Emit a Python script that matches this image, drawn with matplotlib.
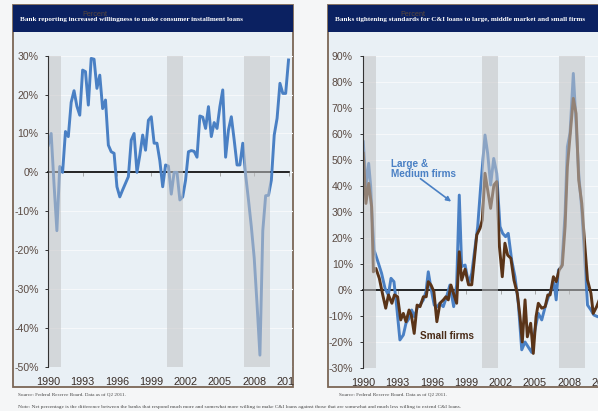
import numpy as np
import matplotlib
matplotlib.use("Agg")
import matplotlib.pyplot as plt
from matplotlib.patches import Rectangle

# ---------------- data ----------------
left_title = "Bank reporting increased willingness to make consumer installment loans"
right_title = "Banks tightening standards for C&I loans to large, middle market and small firms"
source_text = "Source: Federal Reserve Board. Data as of Q2 2011."
note_text = ("Note: Net percentage is the difference between the banks that respond much more and somewhat more "
             "willing to make C&I loans against those that are somewhat and much less willing to extend C&I loans.")

x_ticks = [1990, 1993, 1996, 1999, 2002, 2005, 2008, 2011]
left_yticks = [-50, -40, -30, -20, -10, 0, 10, 20, 30]
right_yticks = [-30, -20, -10, 0, 10, 20, 30, 40, 50, 60, 70, 80, 90]
recessions = [(1990.0, 1991.1), (2000.4, 2001.75), (2007.1, 2009.35)]

# consumer installment loans willingness, quarterly from 1990 Q1
consumer_start = 1990.0
consumer_values = [7, 10, -3, -15, 1.5, 0, 10.5, 9.2, 18, 21, 17, 14.7,
                   26.3, 25.9, 17.3, 29.3, 29.1, 21.6, 25, 16.4, 18.6, 7, 5.3, 4.9,
                   -3.7, -6.3, -4.5, -2.8, -1.1, 8.3, 10, 0, 4.4, 9.6, 5.7, 13.4,
                   14.3, 7.5, 7.5, 3, -3.7, 1.9, 1.6, -5.6, 0, 0, -7.1, -6.3,
                   -2, 5.3, 5.6, 5.4, 3.9, 14.5, 14.2, 11.3, 16.9, 9.2, 12.8, 11.3,
                   16.9, 21.2, 3.9, 10.9, 14.3, 8.3, 1.9, 1.9, 7.5, -0.7, -7.1, -14,
                   -22, -34, -47, -15, -6, -5.9, -2, 9.6, 13.9, 22.9, 20.3, 20.3, 28.9]

large_years = [1990.0, 1990.23, 1990.47, 1990.65, 1990.73, 1990.94, 1991.32, 1991.6, 1991.9,
               1992.19, 1992.42, 1992.68, 1992.92, 1993.2, 1993.5, 1993.73, 1994.0, 1994.23,
               1994.47, 1994.75, 1994.96, 1995.25, 1995.48, 1995.68, 1995.92, 1996.2, 1996.46,
               1996.7, 1996.99, 1997.28, 1997.57, 1997.9, 1998.16, 1998.39, 1998.6, 1998.9,
               1999.2, 1999.48, 1999.7, 2000.0, 2000.26, 2000.64, 2000.87, 2001.13, 2001.4,
               2001.66, 2001.95, 2002.18, 2002.44, 2002.67, 2002.97, 2003.26, 2003.55, 2003.85,
               2004.14, 2004.43, 2004.72, 2005.0, 2005.3, 2005.6, 2005.9, 2006.19, 2006.48,
               2006.68, 2006.86, 2007.06, 2007.35, 2007.64, 2007.84, 2008.07, 2008.36, 2008.6,
               2008.83, 2009.1, 2009.33, 2009.6, 2009.9, 2010.15, 2010.5, 2010.75, 2011.0]
large_values = [57, 39.7, 48.7, 39.7, 30.8, 15.4, 10.3, 6.4, 0.6,
                -1.9, 4.5, 3.2, -6.4, -19.2, -17.3, -12.8, -10.9, -7.7,
                -10.3, -6.4, -5.8, -3.8, -0.6, 7.0, 0.6, -5.8, -6.4,
                -5.1, -6.4, -2.6, 1.9, -6.4, 2, 36.5, 9, 9.6,
                2.6, 6.4, 14.1, 24.4, 39.7, 59.6, 52.6, 40.4, 50.6,
                44.9, 24.4, 21.8, 20.5, 21.8, 11.5, 5.1, -5.1, -23,
                -20, -22, -24, -15.4, -9, -11.5, -6.4, -2.6, 0.6,
                2.6, -3.8, 7.7, 9, 29.5, 55.1, 60.3, 83.3, 64.1,
                44.9, 30.8, 14.1, -5.8, -7.7, -9.6, -10.3, -10, -8]

small_years = [1990.0, 1990.23, 1990.47, 1990.73, 1990.88, 1991.1, 1991.4, 1991.7, 1991.96,
               1992.2, 1992.5, 1992.72, 1993.0, 1993.27, 1993.5, 1993.73, 1994.0, 1994.2,
               1994.45, 1994.7, 1994.96, 1995.25, 1995.5, 1995.68, 1995.92, 1996.17, 1996.43,
               1996.7, 1997.0, 1997.22, 1997.43, 1997.66, 1997.9, 1998.16, 1998.39, 1998.6,
               1998.9, 1999.2, 1999.48, 1999.7, 1999.92, 2000.2, 2000.4, 2000.64, 2000.87,
               2001.13, 2001.42, 2001.66, 2001.9, 2002.15, 2002.38, 2002.62, 2002.9, 2003.17,
               2003.46, 2003.7, 2003.9, 2004.14, 2004.34, 2004.63, 2004.86, 2005.1, 2005.3,
               2005.6, 2005.9, 2006.13, 2006.33, 2006.62, 2006.86, 2007.12, 2007.4, 2007.64,
               2007.84, 2008.07, 2008.36, 2008.6, 2008.83, 2009.1, 2009.33, 2009.6, 2009.9,
               2010.1, 2010.4, 2010.7, 2011.0]
small_values = [52.6, 33.3, 41, 32, 7, 8.3, 4.5, -1.9, -7,
                -1.9, -5.1, -1.9, -2.6, -11.5, -9, -12.2, -7.7, -9.6,
                -16.7, -5.8, -6.4, -2.6, -2.6, 3.2, 1.9, -0.6, -12.2,
                -5.1, -3.8, -2.6, -3.8, 1.9, -1.5, -5.1, 14.7, 3.8,
                8, 2, 2, 11.5, 21.2, 23.7, 26.9, 44.9, 38.5,
                31.4, 40.4, 41.7, 16.7, 5.1, 18, 13.4, 12.2, 3.8,
                -1.3, -10.3, -20, -3.8, -18, -12.8, -24.4, -10.3, -5.1,
                -7, -6.4, -1.9, -1.9, 5.1, 3.2, 7.7, 9.6, 24.4,
                47.4, 59, 73.7, 67.9, 42.3, 33.3, 19.2, 3.8, -1.3,
                -9, -6.4, -3, -2]

# ---------------- style ----------------
W, H = 598, 411
FIG_BG = "#f5f6f7"
PANEL_BG = "#e9f0f5"
HEADER = "#0b2161"
BORDER = "#7b6656"
BLUE = "#4a80c4"
BROWN = "#5a3418"
LABEL = "#5a4a42"
SHADE = "#c2c3c5"

fig = plt.figure(figsize=(W / 100, H / 100), dpi=100, facecolor=FIG_BG)


def fx(px):
    return px / W


def fy(py):
    return 1 - py / H


def panel(x0, x1, y0, y1, hy, title, tx, percent_x):
    fig.add_artist(Rectangle((fx(x0), fy(y1)), fx(x1) - fx(x0), fy(y0) - fy(y1),
                             transform=fig.transFigure, facecolor=PANEL_BG,
                             edgecolor=BORDER, linewidth=1.3, zorder=-5))
    fig.add_artist(Rectangle((fx(x0), fy(hy)), fx(x1) - fx(x0), fy(y0) - fy(hy),
                             transform=fig.transFigure, facecolor=HEADER,
                             edgecolor="none", zorder=-4))
    fig.text(fx(tx), fy((y0 + hy) / 2 + 0.5), title, color="white", fontsize=5.1,
             family="Liberation Serif", weight="bold", va="center", ha="left", zorder=10)
    fig.text(fx(percent_x), fy(14), "Percent", color="#5a483c", fontsize=5.2,
             family="Liberation Sans", va="center", ha="left", zorder=11)


panel(13, 293.3, 5, 387, 32, left_title, 20, 82)
panel(328, 640, 5, 387, 32, right_title, 335, 400)


def make_axes(x0, x1, ytop, ybot, ylim, yticks, ypad):
    ax = fig.add_axes([fx(x0), fy(ybot), fx(x1) - fx(x0), fy(ytop) - fy(ybot)])
    ax.set_facecolor("none")
    ax.set_xlim(1990, 2011.4)
    ax.set_ylim(*ylim)
    for s in ["top", "right"]:
        ax.spines[s].set_visible(False)
    ax.spines["left"].set_color("#333333")
    ax.spines["left"].set_linewidth(0.8)
    ax.spines["left"].set_zorder(6)
    ax.spines["bottom"].set_position(("data", 0))
    ax.spines["bottom"].set_color("black")
    ax.spines["bottom"].set_linewidth(1.2)
    ax.spines["bottom"].set_zorder(2)
    ax.set_xticks(x_ticks)
    ax.tick_params(axis="x", direction="out", length=3, color="#9a9a9a",
                   width=0.6, labelbottom=False)
    ax.set_yticks(yticks)
    ax.set_yticklabels([f"{v}%" for v in yticks])
    ax.tick_params(axis="y", direction="out", length=2.5, color="#333333",
                   width=0.7, pad=ypad, labelsize=7.6, labelcolor=LABEL)
    for lbl in ax.get_yticklabels():
        lbl.set_family("Liberation Sans")
    ax.grid(axis="y", color="#f6f8fa", linewidth=0.8, zorder=0)
    ax.set_axisbelow(True)
    sec = ax.secondary_xaxis("bottom")
    sec.set_xticks(x_ticks)
    sec.set_xticklabels([str(t) for t in x_ticks])
    sec.spines["bottom"].set_visible(False)
    sec.tick_params(length=0, pad=7.3, labelsize=7.8, labelcolor="#3a2e28")
    for lbl in sec.get_xticklabels():
        lbl.set_family("Liberation Sans")
    for a, b in recessions:
        ax.axvspan(a, b, facecolor=SHADE, alpha=0.55, edgecolor="none", zorder=5)
    return ax


# left chart
axL = make_axes(48.3, 293.1, 55.7, 366.8, (-50, 30), left_yticks, 4.5)
axL.spines["bottom"].set_bounds(1990, 2011)
consumer_years = consumer_start + 0.25 * np.arange(len(consumer_values))
axL.plot(consumer_years, consumer_values, color=BLUE, linewidth=2.1, zorder=4,
         solid_joinstyle="round")

# right chart
axR = make_axes(363.3, 608.1, 56.0, 368.0, (-30, 90), right_yticks, 5.0)
axR.plot(large_years, large_values, color=BLUE, linewidth=2.1, zorder=4,
         solid_joinstyle="round")
axR.plot(small_years, small_values, color=BROWN, linewidth=2.1, zorder=4.2,
         solid_joinstyle="round")

axR.text(1992.4, 46.5, "Large &\nMedium firms", color=BLUE, fontsize=7.2,
         weight="bold", family="Liberation Sans", ha="left", va="center",
         linespacing=1.05, zorder=7)
axR.annotate("", xy=(1997.68, 34.0), xytext=(1995.0, 42.8),
             arrowprops=dict(arrowstyle="-|>", color=BLUE, lw=1.2,
                             mutation_scale=7, shrinkA=0, shrinkB=0), zorder=7)
axR.text(1994.95, -17.6, "Small firms", color="#4a2c18", fontsize=7.2,
         weight="bold", family="Liberation Sans", ha="left", va="center", zorder=7)

# cover the overflow of the last tick label between panels
fig.add_artist(Rectangle((fx(294.0), fy(392)), fx(327.4) - fx(294.0), fy(370) - fy(392),
                         transform=fig.transFigure, facecolor=FIG_BG,
                         edgecolor="none", zorder=20))

fig.text(fx(18), fy(394), source_text, fontsize=3.7, family="Liberation Serif",
         color="#444444", va="center", ha="left")
fig.text(fx(339), fy(394), source_text, fontsize=3.7, family="Liberation Serif",
         color="#444444", va="center", ha="left")
fig.text(fx(18), fy(407), note_text, fontsize=3.85, family="Liberation Serif",
         color="#444444", va="center", ha="left")

fig.savefig("out.png", dpi=100, facecolor=FIG_BG)
